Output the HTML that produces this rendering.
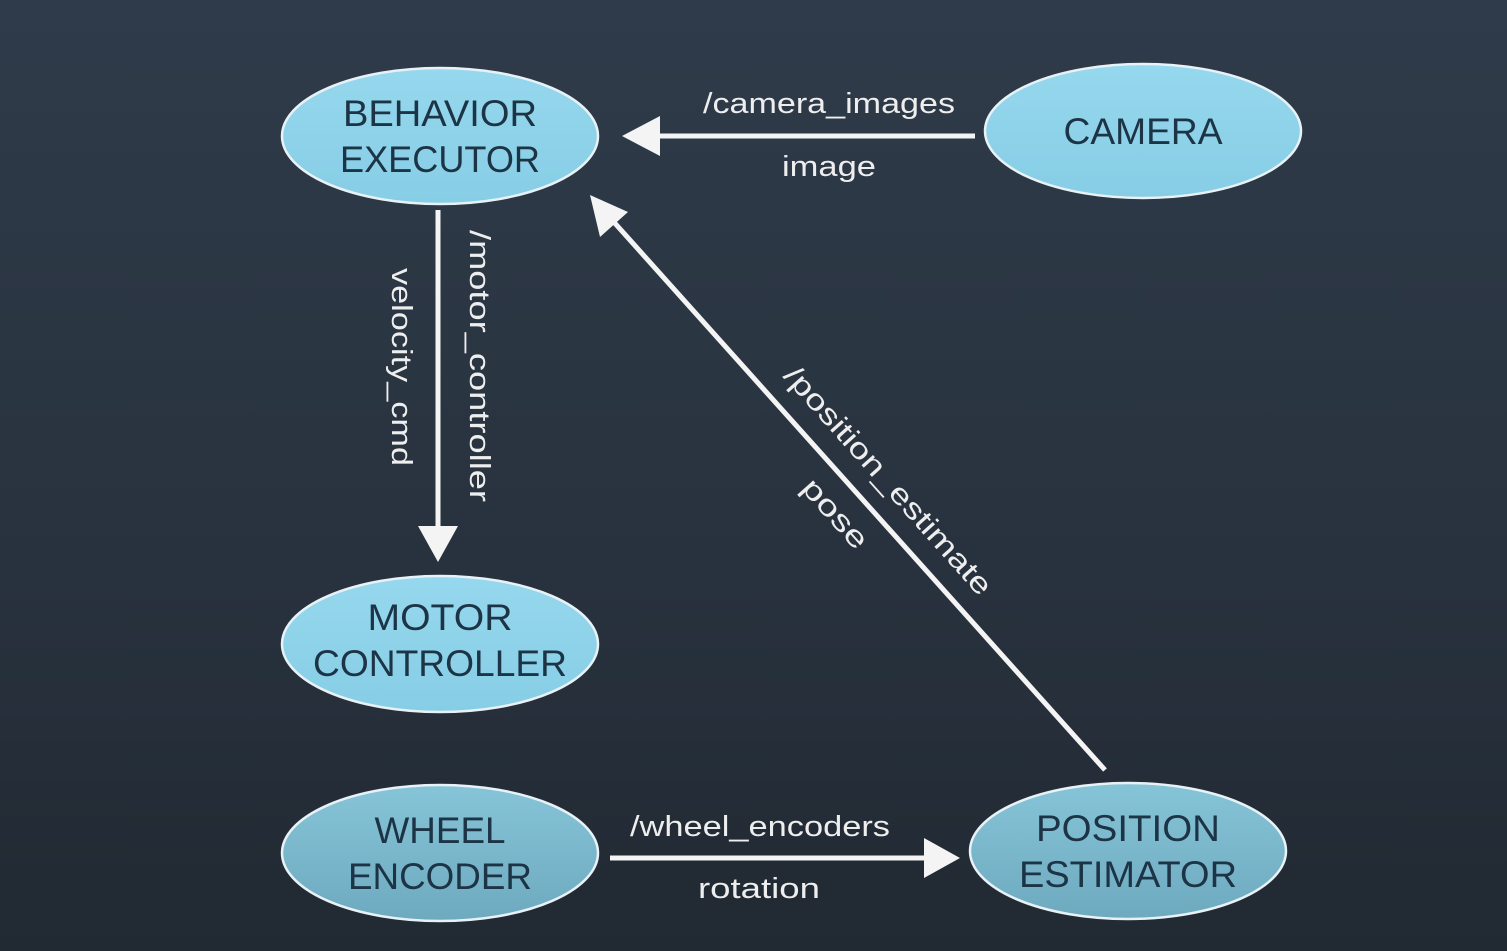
<!DOCTYPE html>
<html><head><style>
html,body{margin:0;padding:0;background:#222a33}
body{width:1507px;height:951px;overflow:hidden;background:linear-gradient(#2f3b4a,#28323e 60%,#212932);font-family:"Liberation Sans",sans-serif}
svg{display:block}
</style></head><body>
<svg width="1507" height="951" viewBox="0 0 1507 951">
<defs>
<linearGradient id="g1" x1="0" y1="0" x2="0" y2="1"><stop offset="0" stop-color="#96d8ee"/><stop offset="1" stop-color="#86cde5"/></linearGradient>
<linearGradient id="g2" x1="0" y1="0" x2="0" y2="1"><stop offset="0" stop-color="#86c4d8"/><stop offset="1" stop-color="#6eaabf"/></linearGradient>
</defs>
<g stroke="#e8f2f6" stroke-width="2.5">
<ellipse cx="440" cy="136" rx="158" ry="68" fill="url(#g1)"/>
<ellipse cx="1143" cy="131" rx="158" ry="67" fill="url(#g1)"/>
<ellipse cx="440" cy="644" rx="158" ry="68" fill="url(#g1)"/>
<ellipse cx="440" cy="853" rx="158" ry="68" fill="url(#g2)"/>
<ellipse cx="1128" cy="851" rx="158" ry="68" fill="url(#g2)"/>
</g>
<g font-size="37" fill="#1c3445" text-anchor="middle" lengthAdjust="spacingAndGlyphs">
<text x="440" y="126" textLength="194" lengthAdjust="spacingAndGlyphs">BEHAVIOR</text><text x="440" y="172" textLength="200" lengthAdjust="spacingAndGlyphs">EXECUTOR</text>
<text x="1143" y="144" textLength="159" lengthAdjust="spacingAndGlyphs">CAMERA</text>
<text x="440" y="630" textLength="145" lengthAdjust="spacingAndGlyphs">MOTOR</text><text x="440" y="676" textLength="254" lengthAdjust="spacingAndGlyphs">CONTROLLER</text>
<text x="440" y="843" textLength="131" lengthAdjust="spacingAndGlyphs">WHEEL</text><text x="440" y="889" textLength="184" lengthAdjust="spacingAndGlyphs">ENCODER</text>
<text x="1128" y="841" textLength="184" lengthAdjust="spacingAndGlyphs">POSITION</text><text x="1128" y="887" textLength="218" lengthAdjust="spacingAndGlyphs">ESTIMATOR</text>
</g>
<g stroke="#f4f4f4" stroke-width="5" fill="#f4f4f4">
<line x1="975" y1="136" x2="650" y2="136"/>
<polygon points="622,136 660,116 660,156" stroke="none"/>
<line x1="438" y1="210" x2="438" y2="530"/>
<polygon points="438,562 418,526 458,526" stroke="none"/>
<line x1="1105" y1="770" x2="612" y2="220"/>
<polygon points="590,195 628,212 600,237" stroke="none"/>
<line x1="610" y1="858" x2="930" y2="858"/>
<polygon points="960,858 924,838 924,878" stroke="none"/>
</g>
<g font-size="29" fill="#eeeeee" text-anchor="middle">
<text x="829" y="113" textLength="252" lengthAdjust="spacingAndGlyphs">/camera_images</text>
<text x="829" y="176" textLength="94" lengthAdjust="spacingAndGlyphs">image</text>
<text x="760" y="836" textLength="260" lengthAdjust="spacingAndGlyphs">/wheel_encoders</text>
<text x="759" y="898" textLength="122" lengthAdjust="spacingAndGlyphs">rotation</text>
<text transform="translate(470,366) rotate(90)" textLength="272" lengthAdjust="spacingAndGlyphs">/motor_controller</text>
<text transform="translate(392,367) rotate(90)" textLength="198" lengthAdjust="spacingAndGlyphs">velocity_cmd</text>
<text transform="translate(881,487) rotate(48.2)" textLength="296" lengthAdjust="spacingAndGlyphs">/position_estimate</text>
<text transform="translate(828,520) rotate(48.2)" textLength="84" lengthAdjust="spacingAndGlyphs">pose</text>
</g>
</svg>
</body></html>
